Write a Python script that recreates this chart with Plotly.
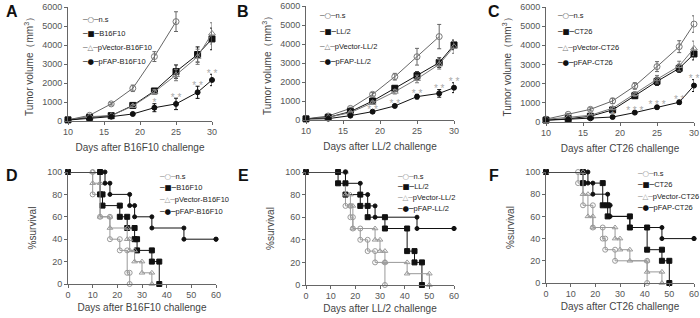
import plotly.graph_objects as go

FONT = "Arial, 'Liberation Sans', sans-serif"

# ---------------- tumour growth data ----------------
days = [10, 13, 16, 19, 22, 25, 28, 30]
days_ns = [10, 13, 16, 19, 22, 25]
days_ns_b = [10, 13, 16, 19, 22, 25, 28]

# A : B16F10
a_ns = [60, 300, 900, 1720, 3390, 5230]
a_ns_err = [20, 40, 60, 170, 260, 520]
a_tum = [60, 190, 280, 820, 1580, 2600, 3500, 4320]
a_tum_err = [20, 30, 40, 80, 120, 350, 400, 570]
a_vec = [60, 230, 280, 790, 1530, 2420, 3380, 4610]
a_vec_err = [20, 30, 40, 80, 120, 300, 400, 560]
a_fap = [50, 140, 230, 370, 700, 900, 1510, 2160]
a_fap_err = [20, 30, 40, 60, 210, 300, 320, 300]
a_sig = ["", "", "", "", "*", "* *", "* *", "* *"]

# B : LL/2
b_ns = [60, 210, 610, 1350, 2280, 3330, 4390]
b_ns_err = [20, 30, 60, 90, 175, 440, 640]
b_tum = [60, 140, 440, 1000, 1670, 2330, 3020, 3950]
b_tum_err = [20, 30, 50, 80, 120, 210, 250, 250]
b_vec = [60, 140, 390, 910, 1490, 2160, 2930, 3860]
b_vec_err = [20, 30, 50, 80, 120, 200, 250, 350]
b_fap = [50, 70, 230, 440, 740, 1230, 1400, 1700]
b_fap_err = [20, 20, 40, 60, 80, 120, 200, 260]
b_sig = ["", "", "", "* *", "* *", "* *", "* *", "* *"]

# C : CT26
c_ns = [150, 400, 660, 1100, 1880, 2890, 3930, 5110]
c_ns_err = [30, 50, 80, 140, 170, 260, 310, 430]
c_tum = [100, 170, 300, 630, 1370, 2120, 2800, 3550]
c_tum_err = [20, 30, 40, 80, 120, 210, 210, 310]
c_vec = [140, 240, 350, 720, 1460, 2230, 2920, 3840]
c_vec_err = [20, 30, 40, 80, 120, 200, 250, 380]
c_fap = [90, 140, 190, 260, 490, 770, 1030, 1900]
c_fap_err = [20, 20, 30, 40, 60, 80, 100, 310]
c_sig = ["", "", "", "*", "* * *", "* * *", "* *", "* *"]

# ---------------- survival data (event times, % survival) ----------------
d_ns_t = [0, 10, 13, 17, 21, 24, 25]
d_ns_s = [100, 80, 60, 40, 30, 10, 0]
d_tum_t = [0, 13, 14, 21, 24, 27, 28, 34, 37]
d_tum_s = [100, 80, 70, 60, 50, 40, 30, 20, 0]
d_vec_t = [0, 10, 13, 17, 24, 25, 27, 30, 34]
d_vec_s = [100, 90, 60, 50, 40, 30, 20, 10, 0]
d_fap_t = [0, 15, 17, 25, 27, 34, 47, 60]
d_fap_s = [100, 90, 80, 70, 60, 50, 40, 40]

e_ns_t = [0, 16, 18, 19, 22, 25, 28, 32]
e_ns_s = [100, 70, 60, 50, 40, 30, 20, 0]
e_tum_t = [0, 13, 16, 22, 25, 32, 41, 44, 47]
e_tum_s = [100, 90, 80, 70, 60, 50, 30, 20, 0]
e_vec_t = [0, 16, 18, 19, 28, 30, 32, 41, 50]
e_vec_s = [100, 80, 70, 50, 40, 30, 20, 10, 0]
e_fap_t = [0, 16, 22, 25, 28, 45, 60]
e_fap_s = [100, 90, 80, 70, 60, 50, 50]

f_ns_t = [0, 13, 15, 19, 23, 24, 28, 41]
f_ns_s = [100, 90, 70, 50, 40, 30, 20, 0]
f_tum_t = [0, 15, 23, 25, 34, 41, 47, 50]
f_tum_s = [100, 90, 70, 60, 50, 30, 20, 0]
f_vec_t = [0, 15, 17, 19, 28, 30, 34, 41, 47]
f_vec_s = [100, 80, 60, 50, 40, 30, 20, 10, 0]
f_fap_t = [0, 17, 19, 25, 26, 34, 47, 60]
f_fap_s = [100, 90, 80, 70, 60, 50, 40, 40]

# labels
growth_tumors = ["B16F10", "LL/2", "CT26"]
panel_letters = ["A", "B", "C", "D", "E", "F"]
growth_ticks = [0, 1000, 2000, 3000, 4000, 5000, 6000]
surv_ticks = [0, 20, 40, 60, 80, 100]


def steps(t, s):
    xs, ys = [t[0]], [s[0]]
    for i in range(1, len(t)):
        xs += [t[i], t[i]]
        ys += [s[i - 1], s[i]]
    return xs, ys


W, H = 700, 318


def px_x(p):
    return p / W


def px_y(p):
    return 1 - p / H


fig = go.Figure()

# series style: (symbol, marker colour, line colour growth, line colour survival, size, legend glyph)
styles = {
    "ns": ("circle-open", "#777", "#666", "#999", 6, "○"),
    "tum": ("square", "#111", "#111", "#111", 6, "■"),
    "vec": ("triangle-up-open", "#888", "#777", "#999", 6, "△"),
    "fap": ("circle", "#111", "#111", "#111", 5, "●"),
}
keys = ["ns", "tum", "vec", "fap"]

growth = [
    (days_ns, a_ns, a_ns_err, a_tum, a_tum_err, a_vec, a_vec_err, a_fap, a_fap_err, a_sig),
    (days_ns_b, b_ns, b_ns_err, b_tum, b_tum_err, b_vec, b_vec_err, b_fap, b_fap_err, b_sig),
    (days, c_ns, c_ns_err, c_tum, c_tum_err, c_vec, c_vec_err, c_fap, c_fap_err, c_sig),
]
survival = [
    (d_ns_t, d_ns_s, d_tum_t, d_tum_s, d_vec_t, d_vec_s, d_fap_t, d_fap_s),
    (e_ns_t, e_ns_s, e_tum_t, e_tum_s, e_vec_t, e_vec_s, e_fap_t, e_fap_s),
    (f_ns_t, f_ns_s, f_tum_t, f_tum_s, f_vec_t, f_vec_s, f_fap_t, f_fap_s),
]

# pixel geometry of the panels: (x_left, x_right, y_top, y_bottom)
growth_px = [(68, 212, 7, 121), (306, 454, 6, 120), (546, 694, 7, 122)]
surv_px = [(68, 216, 172, 284), (306, 454, 172, 285), (546, 694, 172, 283)]
# legend: (left x, first row y, row spacing)
growth_legend_px = [(80, 20, 14), (317, 16, 15.3), (555, 16, 15.6)]
surv_legend_px = [(157, 176, 11.8), (395, 176, 10.7), (635, 173, 11.5)]

axis_common = dict(
    showline=True, linecolor="#666", linewidth=1, ticks="outside", ticklen=3,
    tickcolor="#666", tickfont=dict(size=9, color="#555", family=FONT),
    showgrid=False, zeroline=False, automargin=False,
)

annotations = []


def add_legend(names, lx, ly, dy, size, survival_panel):
    for j, (nm, key) in enumerate(zip(names, keys)):
        sym, mc, lcg, lcs, sz, glyph = styles[key]
        gc = (lcs if survival_panel else lcg) if key in ("ns", "vec") else "#111"
        txt = (f'<span style="font-family:DejaVu Sans;color:{gc}">─{glyph}─</span>'
               f'<span style="color:#222">{nm}</span>')
        annotations.append(dict(text=txt, x=px_x(lx), y=px_y(ly + j * dy), xref="paper", yref="paper",
                                xanchor="left", yanchor="middle", showarrow=False,
                                font=dict(size=size, family=FONT)))


layout = dict()
for i, tumor in enumerate(growth_tumors):
    n = i + 1
    xa = f"x{'' if n == 1 else n}"
    ya = f"y{'' if n == 1 else n}"
    dns, ns, ns_e, tu, tu_e, ve, ve_e, fa, fa_e, sig = growth[i]
    names = ["n.s", tumor, f"pVector-{tumor}", f"pFAP-{tumor}"]
    for key, xv, yv, ev, nm in [("ns", dns, ns, ns_e, names[0]), ("tum", days, tu, tu_e, names[1]),
                                ("vec", days, ve, ve_e, names[2]), ("fap", days, fa, fa_e, names[3])]:
        sym, mc, lc, _, sz, _g = styles[key]
        fig.add_trace(go.Scatter(
            x=xv, y=yv, name=nm, mode="lines+markers", xaxis=xa, yaxis=ya, showlegend=False,
            line=dict(color=lc, width=1),
            marker=dict(symbol=sym, color=mc, size=sz, line=dict(color=mc, width=1)),
            error_y=dict(type="data", array=ev, color=lc, thickness=1, width=2),
            cliponaxis=False,
        ))
    sx = [d for d, s in zip(days, sig) if s]
    sy = [v + e for v, e, s in zip(fa, fa_e, sig) if s]
    st = [s for s in sig if s]
    fig.add_trace(go.Scatter(
        x=sx, y=sy, text=st, mode="text",
        textposition="middle center", textfont=dict(size=10, color="#aaa", family=FONT),
        xaxis=xa, yaxis=ya, showlegend=False, cliponaxis=False, hoverinfo="skip",
    ))
    x0, x1, y0, y1 = growth_px[i]
    layout[f"xaxis{'' if n == 1 else n}"] = dict(
        axis_common, domain=[px_x(x0), px_x(x1)], range=[10, 30], tickvals=[10, 15, 20, 25, 30],
        ticklabelstandoff=-1,
        anchor=ya, title=dict(text=f"Days after {tumor} challenge", standoff=8,
                              font=dict(size=10, color="#444", family=FONT)))
    layout[f"yaxis{'' if n == 1 else n}"] = dict(
        axis_common, domain=[px_y(y1), px_y(y0)], range=[0, 6000], tickvals=growth_ticks,
        anchor=xa, title=dict(text="Tumor volume（mm<sup>3</sup>）", standoff=6,
                              font=dict(size=10, color="#444", family=FONT)))
    lx, ly, dy = growth_legend_px[i]
    add_legend(names, lx, ly, dy, 7.5, False)

for i, tumor in enumerate(growth_tumors):
    n = i + 4
    xa, ya = f"x{n}", f"y{n}"
    ns_t, ns_s, tu_t, tu_s, ve_t, ve_s, fa_t, fa_s = survival[i]
    names = ["n.s", tumor, f"pVector-{tumor}", f"pFAP-{tumor}"]
    for key, t, s, nm in [("ns", ns_t, ns_s, names[0]), ("tum", tu_t, tu_s, names[1]),
                          ("vec", ve_t, ve_s, names[2]), ("fap", fa_t, fa_s, names[3])]:
        sym, mc, _, lc, sz, _g = styles[key]
        xs, ys = steps(t, s)
        fig.add_trace(go.Scatter(
            x=xs, y=ys, name=nm, mode="lines+markers", xaxis=xa, yaxis=ya, showlegend=False,
            line=dict(color=lc, width=1),
            marker=dict(symbol=sym, color=lc if key in ("ns", "vec") else mc, size=sz - 1,
                        line=dict(color=lc, width=1)),
            cliponaxis=False,
        ))
    x0, x1, y0, y1 = surv_px[i]
    layout[f"xaxis{n}"] = dict(
        axis_common, domain=[px_x(x0), px_x(x1)], range=[0, 60], tickvals=[0, 10, 20, 30, 40, 50, 60],
        ticklabelstandoff=-1,
        anchor=ya, title=dict(text=f"Days after {tumor} challenge", standoff=5,
                              font=dict(size=10, color="#444", family=FONT)))
    layout[f"yaxis{n}"] = dict(
        axis_common, domain=[px_y(y1), px_y(y0)], range=[0, 100], tickvals=surv_ticks,
        anchor=xa, title=dict(text="%survival", standoff=8,
                              font=dict(size=10, color="#444", family=FONT)))
    lx, ly, dy = surv_legend_px[i]
    add_legend(names, lx, ly, dy, 7.5, True)

letter_px = [(12, 12), (243, 12), (494, 12), (12, 175), (243, 175), (494, 175)]
for letter, (lx, ly) in zip(panel_letters, letter_px):
    annotations.append(dict(text=f"<b>{letter}</b>", x=px_x(lx), y=px_y(ly), xref="paper", yref="paper",
                            xanchor="center", yanchor="middle", showarrow=False,
                            font=dict(size=16, color="#111", family=FONT)))

fig.update_layout(
    width=W, height=H, margin=dict(l=0, r=0, t=0, b=0),
    paper_bgcolor="white", plot_bgcolor="white",
    font=dict(family=FONT, color="#444"),
    annotations=annotations, hovermode=False, showlegend=False,
    **layout,
)

fig.write_html("out.html", config={"displayModeBar": False, "staticPlot": True},
               post_script="document.body.style.margin='0';document.body.style.overflow='hidden';")
